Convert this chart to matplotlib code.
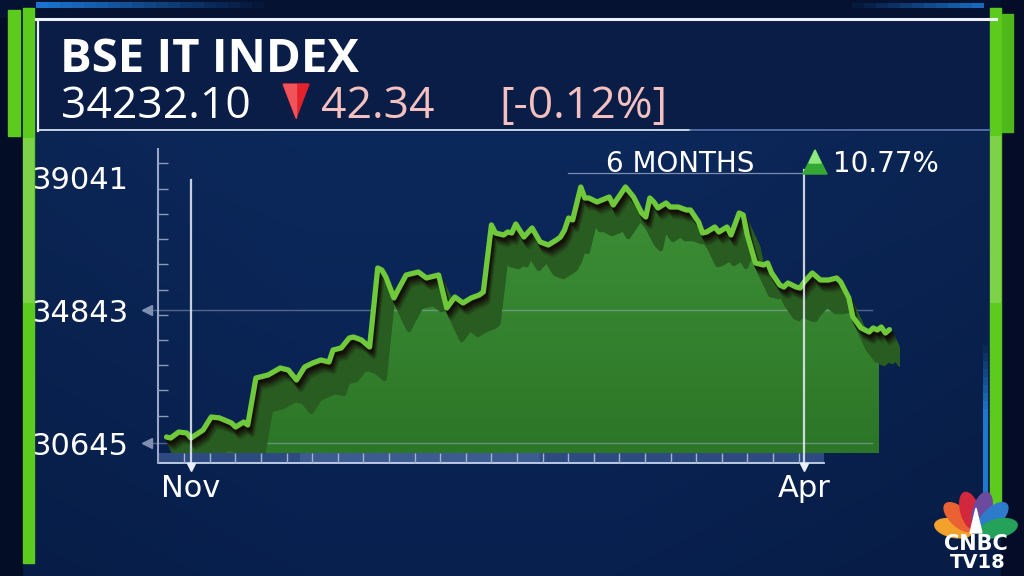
import numpy as np
import pandas as pd
import matplotlib
matplotlib.use("Agg")
import matplotlib.pyplot as plt
import matplotlib.dates as mdates
from matplotlib.patches import Rectangle, Polygon, Ellipse
from matplotlib.transforms import offset_copy, blended_transform_factory
from matplotlib.colors import to_rgb

# ---------------- data ----------------
title_text = "BSE IT INDEX"
last_close = "34232.10"
change_abs = "42.34"
change_pct = "[-0.12%]"
period_label = "6 MONTHS"
period_change = "10.77%"
y_tick_values = [30645, 34843, 39041]
x_tick_months = [11, 4]          # Nov, Apr
start_date = "2021-11-01"
day_offsets = [-6, -5, -3, -1, 0, 3, 5, 7, 10, 11, 13, 14, 16, 19, 22, 24, 26, 28, 30, 32,
               34, 35, 37, 39, 40, 42, 44, 46, 47, 48, 50, 51, 53, 56, 57, 58, 61, 63, 65, 67,
               69, 71, 72, 74, 75, 77, 78, 79, 80, 82, 84, 86, 88, 90, 91, 92, 93, 94, 96, 97,
               98, 100, 103, 104, 106, 107, 109, 111, 112, 113, 114, 115, 117, 118, 120, 122, 123, 125, 126, 127,
               129, 130, 132, 133, 135, 136, 137, 139, 141, 142, 143, 145, 146, 147, 149, 150, 151, 153, 155, 157,
               159, 160, 162, 163, 165, 167, 168, 169, 170, 171, 172]
index_values = [30835, 30803, 30993, 30961, 30803, 31056, 31468, 31440, 31278, 31151,
                31309, 31215, 32702, 32797, 33018, 32955, 32638, 33050, 33176, 33271,
                33208, 33588, 33651, 33967, 33999, 33904, 33682, 36182, 36119, 35897,
                35233, 35486, 35961, 36055, 35961, 35866, 35961, 34916, 35264, 35075,
                35233, 35328, 35423, 37543, 37289, 37226, 37321, 37289, 37574, 37163,
                37448, 37005, 36910, 37068, 37163, 37384, 37764, 37701, 38745, 38397,
                38397, 38270, 38428, 38175, 38555, 38745, 38428, 37922, 37796, 38397,
                38270, 38080, 38239, 38112, 38112, 38017, 38017, 37637, 37289, 37321,
                37479, 37321, 37479, 37226, 37922, 37859, 37226, 36340, 36277, 36340,
                36024, 35644, 35581, 35707, 35581, 35549, 35739, 36024, 35802, 35802,
                35866, 35739, 35233, 34632, 34284, 34157, 34284, 34220, 34315, 34125,
                34232]

# ---------------- figure ----------------
W, H = 1024, 576
fig = plt.figure(figsize=(W / 100, H / 100), dpi=100)
fig.patch.set_facecolor("#061433")


def px_axes(z):
    a = fig.add_axes([0, 0, 1, 1], zorder=z)
    a.set_xlim(0, W)
    a.set_ylim(H, 0)
    a.axis("off")
    a.patch.set_alpha(0)
    return a


bg = px_axes(0)
# background gradient
ny, nx = 144, 256
yy, xx = np.mgrid[0:1:ny * 1j, 0:1:nx * 1j]
c_top = np.array(to_rgb("#0d2b60"))
c_bot = np.array(to_rgb("#08204e"))
img = c_top[None, None, :] * (1 - yy[..., None]) + c_bot[None, None, :] * yy[..., None]
img = img * (1 - 0.30 * np.clip(np.abs(xx - 0.45) - 0.15, 0, 1)[..., None])
bg.imshow(img, extent=[0, W, H, 0], aspect="auto", interpolation="bilinear", zorder=0)
bg.set_xlim(0, W)
bg.set_ylim(H, 0)

bg.add_patch(Rectangle((0, 0), 22, H, color="#040d26", zorder=1))
bg.add_patch(Rectangle((0, 0), W, 17, color="#051232", zorder=1))
bg.add_patch(Rectangle((1001, 0), 23, H, color="#040c28", zorder=1))
# header box
bg.add_patch(Rectangle((36, 18), 958, 113, color="#0a1d47", zorder=2))
# top glow
for i, a in enumerate(np.linspace(0.9, 0.0, 20)):
    bg.add_patch(Rectangle((36 + i * 12, 2), 12, 6, color="#1d7fe0", alpha=a, lw=0, zorder=2))
for i, a in enumerate(np.linspace(0.0, 0.8, 12)):
    bg.add_patch(Rectangle((840 + i * 12, 3), 12, 5, color="#1d7fe0", alpha=a, lw=0, zorder=2))

# x-axis band below chart
bg.add_patch(Rectangle((158, 453), 666, 10, color="#3a5a92", alpha=0.75, lw=0, zorder=2))
bg.add_patch(Rectangle((300, 453), 240, 10, color="#5a7ab0", alpha=0.35, lw=0, zorder=2))
bg.plot([158, 824], [463, 463], color="#c8d4ea", lw=1.3, zorder=3)
bg.plot([158, 158], [149, 463], color="#9aa8c6", lw=1.5, zorder=3)

# ---------------- chart axes ----------------
L, R, T, B = 158, 900, 149, 453
ax = fig.add_axes([L / W, 1 - B / H, (R - L) / W, (B - T) / H], zorder=2)
ax.set_facecolor("none")
for s in ax.spines.values():
    s.set_visible(False)

t0 = pd.Timestamp(start_date)
dates = t0 + pd.to_timedelta(day_offsets, unit="D")
xs = mdates.date2num(dates.to_pydatetime())
ys = np.asarray(index_values, dtype=float)

ymin, ymax = 30329, 39947
x_lo = mdates.date2num(t0 - pd.Timedelta(days=8.1))
x_hi = mdates.date2num(t0 + pd.Timedelta(days=174.6))

DX, DY = 15, -32


def off(f):
    return offset_copy(ax.transData, fig=fig, x=DX * f, y=DY * f, units="dots")


# main fill (shifted copy of the line), with gradient
poly = ax.fill_between(xs, ys, ymin - 3000, transform=off(1), color="#37862e", lw=0, zorder=2)
poly.set_visible(False)
gy = np.linspace(0, 1, 64)[:, None]
g_top = np.array(to_rgb("#40933a"))
g_bot = np.array(to_rgb("#2c7627"))
gimg = g_top[None, None, :] * (1 - gy[..., None]) + g_bot[None, None, :] * gy[..., None]
gimg = np.repeat(gimg, 2, axis=1)
im = ax.imshow(gimg, extent=[x_lo, xs[-1] - 2.6, ymin, ymax], aspect="auto", zorder=2,
               interpolation="bilinear")
im.set_clip_path(poly.get_paths()[0], transform=off(1))

# gridlines
for v in y_tick_values[:2]:
    ax.axhline(v, xmin=-15 / (R - L), xmax=(872 - L) / (R - L), color="#a8b8d8", lw=1.0,
               alpha=0.45, zorder=2.5, clip_on=False)
bt = blended_transform_factory(ax.transAxes, ax.transData)
ax.plot([-11 / (R - L)] * 2, y_tick_values[:2], ls="none", marker="<", ms=7, color="#7f8fb2",
        transform=bt, clip_on=False, zorder=3)

# extruded ribbon
N = 28
c_far = np.array(to_rgb("#285c21"))
c_near = np.array(to_rgb("#130f08"))
for i in range(N, 0, -1):
    f = i / N
    w = np.clip((f - 0.10) / 0.25, 0, 1)
    col = c_near * (1 - w) + c_far * w
    ax.plot(xs, ys, transform=off(f), color=col, lw=3.2, zorder=3,
            solid_joinstyle="round", solid_capstyle="round")

# main line
ax.plot(xs, ys, color="#6fc93b", lw=3.8, zorder=5, solid_joinstyle="round",
        solid_capstyle="round")

# Nov / Apr vertical markers
month_ticks = [mdates.date2num(pd.Timestamp("2021-11-01")), mdates.date2num(pd.Timestamp("2022-04-01"))]
tops = [(B - 180) / (B - T), (B - 170) / (B - T)]
for xm, tp in zip(month_ticks, tops):
    ax.axvline(xm, ymin=-10 / (B - T), ymax=tp, color="#e8eef8", lw=1.6, alpha=0.85,
               zorder=6, clip_on=False)
bx = blended_transform_factory(ax.transData, ax.transAxes)
ax.plot(month_ticks, [-14 / (B - T)] * 2, ls="none", marker="v", ms=6, color="#e8eef8",
        transform=bx, clip_on=False, zorder=6)

ax.set_xlim(x_lo, x_hi)
ax.set_ylim(ymin, ymax)
ax.xaxis.set_major_locator(mdates.MonthLocator(bymonth=x_tick_months))
ax.xaxis.set_major_formatter(mdates.DateFormatter("%b"))
ax.set_yticks(y_tick_values)
ax.set_yticklabels([str(v) for v in y_tick_values])
ax.tick_params(axis="x", which="major", length=0, pad=15, labelsize=22, labelcolor="white")
ax.tick_params(axis="y", which="major", length=0, pad=21, labelsize=22, labelcolor="white")
for lab in ax.get_xticklabels() + ax.get_yticklabels():
    lab.set_family("DejaVu Sans")

# decorative minor ticks
px_per_val = (B - T) / (ymax - ymin)
ax.set_yticks(31509 + np.arange(11) * 25.24 / px_per_val, minor=True)
ax.tick_params(axis="y", which="minor", direction="in", length=7, width=1, color="#8a9abb")
px_per_day = (R - L) / (x_hi - x_lo)
minor_x = mdates.date2num(t0) + (np.arange(-1, 26) * 25.6 + 19) / px_per_day
minor_x = minor_x[minor_x < mdates.date2num(t0) + (824 - 191) / px_per_day]
ax.set_xticks(minor_x, minor=True)
ax.tick_params(axis="x", which="minor", direction="out", length=7, width=1, color="#9fb0d0")
ax.grid(False)

# ---------------- overlay decorations & text ----------------
ov = px_axes(5)

# green bars
ov.add_patch(Rectangle((8, 10), 12, 126, color="#5ccb1e", zorder=1))
ov.add_patch(Rectangle((23, 8), 11, 555, color="#5ccb1e", zorder=1))
ov.add_patch(Rectangle((23, 138), 11, 165, color="#7dd24a", lw=0, zorder=1))
for i, a in enumerate(np.linspace(0.0, 1.0, 10)):
    ov.add_patch(Rectangle((983, 337 + i * 8), 5, 8, color="#1f78d0", alpha=a, lw=0, zorder=1))
ov.add_patch(Rectangle((983, 417), 5, 110, color="#1f78d0", lw=0, zorder=1))
ov.add_patch(Rectangle((990, 8), 11, 515, color="#5ccb1e", zorder=1))
ov.add_patch(Rectangle((990, 136), 11, 167, color="#7dd24a", lw=0, zorder=1))
ov.add_patch(Rectangle((1002, 14), 11, 118, color="#4fb81a", zorder=1))

# header lines
ov.plot([36, 996], [19, 19], color="#eef3fb", lw=2.2, zorder=2)
ov.plot([38, 38], [22, 131], color="#eef3fb", lw=1.6, zorder=2)
ov.plot([40, 690], [129.5, 129.5], color="#c5d4ea", lw=1.4, zorder=2)
ov.plot([690, 990], [130, 130], color="#5a7ab4", lw=1.2, zorder=2)

hdr_font = "Open Sans"
ov.text(60, 72, title_text, fontsize=34, fontweight="bold", color="white",
        family=hdr_font, va="baseline", ha="left")
ov.text(61, 118, last_close, fontsize=32, color="white", family=hdr_font,
        va="baseline", ha="left")
ov.add_patch(Polygon([(283, 84), (309, 84), (296, 118)], closed=True, color="#e3222b", zorder=3))
ov.add_patch(Polygon([(283, 84), (296, 84), (296, 118)], closed=True, color="#f0545a", zorder=3))
ov.text(321, 118, change_abs, fontsize=32, color="#f5c1c0", family=hdr_font,
        va="baseline", ha="left")
ov.text(499, 118, change_pct, fontsize=32, color="#f5c1c0", family=hdr_font,
        va="baseline", ha="left")

# 6 months
ov.plot([568, 804], [172.5, 172.5], color="#c8d4ea", lw=0.9, alpha=0.6, zorder=2)
ov.text(606, 172, period_label, fontsize=20, color="white", family="DejaVu Sans",
        va="baseline", ha="left")
ov.add_patch(Polygon([(803, 174), (827, 174), (815, 150)], closed=True, color="#35a834", zorder=3))
ov.add_patch(Polygon([(809, 163), (821, 163), (815, 150)], closed=True, color="#8de87f", zorder=3))
ov.text(833, 172, period_change, fontsize=20, color="white", family="DejaVu Sans",
        va="baseline", ha="left")

# CNBC TV18 logo
hub_x, hub_y = 976, 533
feather_cols = ["#f2a22c", "#ea6234", "#d2283e", "#6c4a9e", "#2e7acb", "#24a25a"]
for th, col in zip(np.linspace(168, 12, 6), feather_cols):
    r = np.deg2rad(th)
    ov.add_patch(Ellipse((hub_x + 23 * np.cos(r), hub_y - 23 * np.sin(r)), 38, 18, angle=-th,
                         color=col, zorder=4))
ov.add_patch(Polygon([(970, 533), (982, 533), (976, 508)], closed=True, color="white", zorder=5))
ov.text(976, 544, "CNBC", fontsize=15, fontweight="bold", color="white", family="DejaVu Sans",
        ha="center", va="center", zorder=6)
ov.text(978, 562, "TV18", fontsize=14, fontweight="bold", color="white", family="DejaVu Sans",
        ha="center", va="center", zorder=6)

fig.savefig("out.png", dpi=100, facecolor=fig.get_facecolor())
